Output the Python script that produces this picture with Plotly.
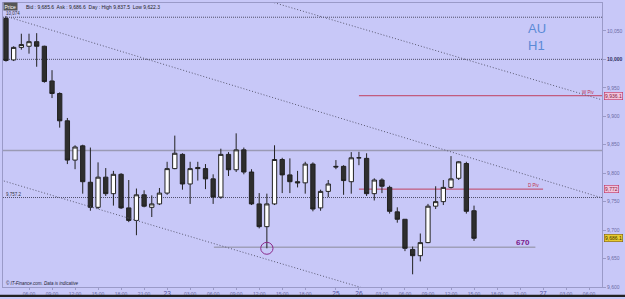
import plotly.graph_objects as go

# ---------------- data ----------------
bar_index = list(range(62))
opens = [10072, 9999, 10021, 10023, 10031, 10023, 9962, 9940, 9892, 9823,
         9848, 9784, 9740, 9793, 9764, 9798, 9739, 9717, 9762, 9740,
         9746, 9765, 9808, 9833, 9781, 9810, 9808, 9790, 9758, 9833,
         9806, 9841, 9802, 9746, 9706, 9746, 9824, 9797, 9785, 9783,
         9816, 9739, 9768, 9812, 9812, 9785, 9827, 9826, 9764, 9788,
         9775, 9732, 9719, 9666, 9655, 9678, 9742, 9750, 9775, 9791,
         9817, 9734]
highs = [10076, 10023, 10045, 10045, 10046, 10024, 9981, 9942, 9897, 9849,
         9850, 9845, 9819, 9809, 9804, 9800, 9788, 9773, 9770, 9761,
         9774, 9820, 9866, 9835, 9820, 9820, 9816, 9798, 9843, 9837,
         9870, 9845, 9807, 9765, 9764, 9849, 9827, 9826, 9804, 9820,
         9819, 9771, 9788, 9823, 9814, 9837, 9837.5, 9835, 9791, 9791,
         9778, 9740, 9719, 9671, 9694, 9746, 9777, 9788, 9830, 9821,
         9820, 9743]
lows = [9996, 9997, 10017, 10010, 9987, 9959, 9932, 9880, 9816, 9807,
        9764, 9734, 9737, 9760, 9743, 9737, 9714, 9691, 9740, 9723,
        9744, 9762, 9807, 9771, 9746, 9787, 9772, 9746, 9755, 9795,
        9802, 9798, 9744, 9703, 9668, 9744, 9765, 9765, 9775, 9764,
        9733, 9734, 9758, 9807, 9762, 9764, 9814, 9760, 9752, 9765,
        9729, 9713, 9663, 9622.3, 9645, 9677, 9737, 9744, 9773, 9788,
        9729, 9681]
closes = [9998, 10021, 10026, 10031, 10023, 9961, 9940, 9892, 9823, 9846,
          9785, 9740, 9793, 9764, 9798, 9739, 9717, 9762, 9742, 9746,
          9765, 9808, 9835, 9781, 9808, 9808, 9790, 9758, 9833, 9806,
          9841, 9802, 9746, 9706, 9746, 9824, 9797, 9785, 9783, 9816,
          9737, 9768, 9781, 9811, 9787, 9827, 9827, 9764, 9788, 9777,
          9733, 9719, 9668, 9655, 9678, 9742, 9750, 9775, 9790, 9820,
          9733, 9685.6]

x_tick_index = [3, 6, 9, 12, 15, 18, 21, 24, 27, 30, 33, 36, 39, 43, 46,
                49, 52, 55, 58, 61, 64, 67, 70, 73, 76]
x_tick_labels = ["06:00", "09:00", "12:00", "15:00", "18:00", "21:00", "23",
                 "03:00", "06:00", "09:00", "12:00", "15:00", "18:00", "25", "26",
                 "03:00", "06:00", "09:00", "12:00", "15:00", "18:00", "21:00", "27",
                 "03:00", "06:00"]
y_tick_values = [9600, 9650, 9700, 9750, 9800, 9850, 9900, 9950, 10000, 10050]

# reference levels
top_level = 10074
round_level = 10000
hline_level = 9840
weekly_pivot = 9936.1
daily_pivot = 9772
lower_level = 9757.2
support_level = 9670
ask_price = 9686.1

# channel trend lines (bar index, price)
trend_a_x = [0.65, 77.7]
trend_a_y = [10073, 9756.5]
trend_b_x = [34.2, 77.7]
trend_b_y = [10102.6, 9928.7]
trend_c_x = [-0.65, 46.5]
trend_c_y = [9787.8, 9598.3]

x_range = [-0.39, 77.68]
y_range = [9600, 10099]

BG = "#c8c8f8"
AXC = "#9a9ac8"
TXT = "#6c6ca6"

fig = go.Figure()

fig.add_trace(go.Candlestick(
    x=bar_index, open=opens, high=highs, low=lows, close=closes,
    increasing=dict(fillcolor="#ffffff", line=dict(color="#222222", width=1)),
    decreasing=dict(fillcolor="#2e2e2e", line=dict(color="#222222", width=1)),
    whiskerwidth=0, showlegend=False, hoverinfo="skip"))

dotted = dict(color="#5a5a72", width=1, dash="1px,2px")
for tx, ty in [(trend_a_x, trend_a_y), (trend_b_x, trend_b_y), (trend_c_x, trend_c_y)]:
    fig.add_trace(go.Scatter(x=tx, y=ty, mode="lines", line=dotted,
                             showlegend=False, hoverinfo="skip"))

shapes = []
for lvl in [top_level, round_level, lower_level]:
    shapes.append(dict(type="line", xref="paper", x0=0, x1=1, yref="y", y0=lvl, y1=lvl,
                       line=dict(color="#50506a", width=1, dash="1px,1px"), layer="below"))
shapes.append(dict(type="line", xref="paper", x0=0, x1=1, yref="y", y0=hline_level, y1=hline_level,
                   line=dict(color="#9a9ab4", width=1.5), layer="below"))
shapes.append(dict(type="line", xref="x", x0=46, x1=x_range[1], yref="y", y0=weekly_pivot, y1=weekly_pivot,
                   line=dict(color="#c04060", width=1), layer="below"))
shapes.append(dict(type="line", xref="x", x0=46, x1=70, yref="y", y0=daily_pivot, y1=daily_pivot,
                   line=dict(color="#c04060", width=1), layer="below"))
shapes.append(dict(type="line", xref="x", x0=27.1, x1=69, yref="y", y0=support_level, y1=support_level,
                   line=dict(color="#8a8a9a", width=1), layer="below"))
circle_i = 34
shapes.append(dict(type="circle", xref="x", yref="y",
                   x0=circle_i - 0.8, x1=circle_i + 0.8,
                   y0=lows[circle_i] - 10.5, y1=lows[circle_i] + 10.5,
                   line=dict(color="#8a2a8a", width=1)))
# dark strip at the very bottom of the window
shapes.append(dict(type="rect", xref="paper", yref="paper", x0=-0.01, x1=1.05,
                   y0=-0.0355, y1=-0.0275, fillcolor="#222222", line=dict(width=0)))

annotations = []
# header
annotations.append(dict(xref="paper", yref="paper", x=0.0, y=1.0, xanchor="left", yanchor="top",
                        text="Price", showarrow=False, font=dict(size=5, color="#ffffff", family="Arial"),
                        bgcolor="#555555", borderpad=0.5, xshift=0, yshift=1))
annotations.append(dict(xref="paper", yref="paper", x=0.0, y=1.0, xanchor="left", yanchor="top",
                        text="Bid : 9,685.6  Ask : 9,686.6  Day : High 9,837.5  Low 9,622.3",
                        showarrow=False, font=dict(size=5, color="#222222", family="Arial"),
                        xshift=21, yshift=1))
# AU H1
annotations.append(dict(xref="paper", yref="paper", x=0.0, y=1.0, xanchor="left", yanchor="top",
                        text="AU<br>H1", showarrow=False, align="left",
                        font=dict(size=13, color="#5b8ad6", family="Arial"),
                        xshift=523, yshift=-16))
# left level labels
annotations.append(dict(xref="paper", yref="y", x=0, y=top_level, xanchor="left", yanchor="bottom",
                        text="10,074", showarrow=False, font=dict(size=4.5, color="#333344", family="Arial"),
                        xshift=1, yshift=-1))
annotations.append(dict(xref="paper", yref="y", x=0, y=lower_level, xanchor="left", yanchor="bottom",
                        text="9,757.2", showarrow=False, font=dict(size=4.5, color="#333344", family="Arial"),
                        xshift=1, yshift=-1))
# pivot labels
annotations.append(dict(xref="paper", yref="y", x=1, y=weekly_pivot, xanchor="right", yanchor="bottom",
                        text="W Piv", showarrow=False, font=dict(size=4.5, color="#c03050", family="Arial"),
                        xshift=-6, yshift=-1))
annotations.append(dict(xref="x", yref="y", x=70, y=daily_pivot, xanchor="right", yanchor="bottom",
                        text="D Piv", showarrow=False, font=dict(size=4.5, color="#c03050", family="Arial"),
                        xshift=-1, yshift=-1))
# 670 label
annotations.append(dict(xref="x", yref="y", x=67.4, y=support_level, xanchor="center", yanchor="bottom",
                        text="<b>670</b>", showarrow=False, font=dict(size=8, color="#7a1a8a", family="Arial"),
                        yshift=-2))
# price boxes on axis
for val, txt, fill, border, col in [(weekly_pivot, "9,936.1", "#f4c4dc", "#c03060", "#802040"),
                                    (daily_pivot, "9,772", "#f4c4dc", "#c03060", "#802040"),
                                    (ask_price, "9,686.1", "#e8cc30", "#806000", "#403000")]:
    annotations.append(dict(xref="paper", yref="y", x=1, y=val, xanchor="left", yanchor="middle",
                            text=txt, showarrow=False, font=dict(size=5, color=col, family="Arial"),
                            bgcolor=fill, bordercolor=border, borderwidth=0.6, borderpad=0.4,
                            xshift=2))
# copyright
annotations.append(dict(xref="paper", yref="paper", x=0, y=0, xanchor="left", yanchor="bottom",
                        text="<i>© IT-Finance.com. Data is indicative</i>", showarrow=False,
                        font=dict(size=4.5, color="#222233", family="Arial"), xshift=1, yshift=-1))

y_tick_text = []
for v in y_tick_values:
    s = f"{v:,}"
    if v == round_level:
        s = f"<span style='color:#303060'><b>{s}</b></span>"
    y_tick_text.append(s)

x_text = []
for t in x_tick_labels:
    if ":" not in t:
        x_text.append(f"<span style='font-size:6.5px;color:#5050a0'>{t}</span>")
    else:
        x_text.append(t)

fig.update_layout(
    width=625, height=299,
    margin=dict(l=2, r=18, t=2, b=10),
    paper_bgcolor=BG, plot_bgcolor=BG,
    boxgap=0.2,
    showlegend=False,
    shapes=shapes, annotations=annotations,
    xaxis=dict(range=x_range, tickmode="array", tickvals=x_tick_index, ticktext=x_text,
               tickfont=dict(size=5, color=TXT, family="Arial"), ticks="outside", ticklen=2,
               tickcolor=AXC, showgrid=False, zeroline=False, showline=True, linecolor=AXC,
               linewidth=1, mirror=True, rangeslider=dict(visible=False), fixedrange=True),
    yaxis=dict(range=y_range, side="right", tickmode="array", tickvals=y_tick_values,
               ticktext=y_tick_text, tickfont=dict(size=5, color=TXT, family="Arial"),
               ticks="outside", ticklen=3, tickcolor=AXC, showgrid=False, zeroline=False,
               showline=True, linecolor=AXC, linewidth=1, mirror=True, fixedrange=True),
)

fig.write_html("out.html")
